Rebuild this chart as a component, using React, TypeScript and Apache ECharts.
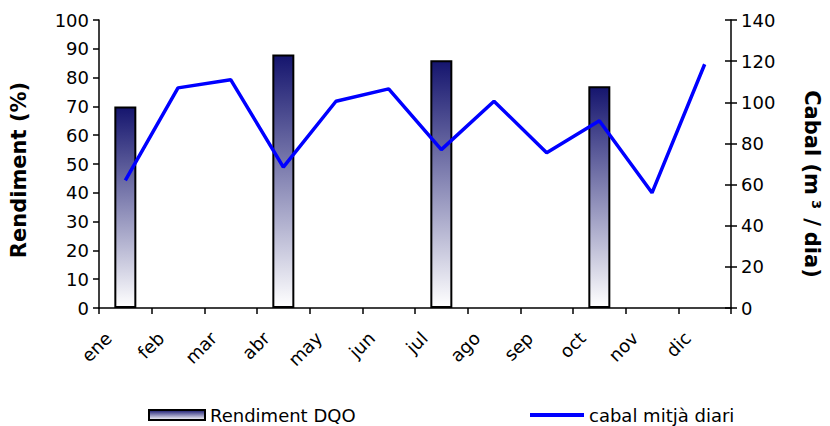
import React, { useEffect, useRef } from "react";
import * as echarts from "echarts";

const months = ["ene", "feb", "mar", "abr", "may", "jun", "jul", "ago", "sep", "oct", "nov", "dic"];
const rendimentDQO: (number | null)[] = [70, null, null, 88, null, null, 86, null, null, 77, null, null];
const cabalMitja: number[] = [62, 107, 111, 68.5, 100.5, 106.5, 77, 100.5, 75.5, 91, 56, 118.5];
const leftTicks = { min: 0, max: 100, interval: 10 };
const rightTicks = { min: 0, max: 140, interval: 20 };

const FONT = "DejaVu Sans";

export default function App() {
  const ref = useRef<HTMLDivElement>(null);
  useEffect(() => {
    if (!ref.current) return;
    const chart = echarts.init(ref.current, null, { renderer: "svg" });
    const barGrad = new echarts.graphic.LinearGradient(0, 0, 0, 1, [
      { offset: 0, color: "#15156e" },
      { offset: 1, color: "#ffffff" },
    ]);
    const axisText = { fontSize: 18, color: "#000", fontFamily: FONT };
    const titleBase = { fontFamily: FONT, fontSize: 21, fontWeight: "bold" as const, color: "#000" };
    chart.setOption({
      animation: false,
      backgroundColor: "#ffffff",
      textStyle: { fontFamily: FONT },
      grid: { left: 99, right: 95, top: 20, bottom: 118, containLabel: false },
      legend: [
        {
          left: 143,
          top: 401,
          itemWidth: 56,
          itemHeight: 10,
          textStyle: { fontFamily: FONT, fontSize: 18, color: "#000" },
          data: [{ name: "Rendiment DQO", icon: "rect" }],
        },
        {
          left: 525,
          top: 401,
          itemWidth: 54,
          itemHeight: 4,
          textStyle: { fontFamily: FONT, fontSize: 18, color: "#000" },
          data: [{ name: "cabal mitjà diari", icon: "rect" }],
        },
      ],
      xAxis: {
        type: "category",
        data: months,
        boundaryGap: true,
        axisLine: { lineStyle: { color: "#000", width: 1.5 } },
        axisTick: { show: true, length: 6, lineStyle: { color: "#000", width: 1.5 } },
        axisLabel: { rotate: 45, margin: 10, padding: [0, 24, 8, 0], ...axisText },
        splitLine: { show: false },
      },
      yAxis: [
        {
          type: "value",
          position: "left",
          ...leftTicks,
          name: "Rendiment (%)",
          nameLocation: "middle",
          nameGap: 70,
          nameTextStyle: { ...titleBase, padding: [0, 12, 0, 0] },
          axisLine: { show: true, lineStyle: { color: "#000", width: 1.5 } },
          axisTick: { show: true, length: 6, lineStyle: { color: "#000", width: 1.5 } },
          axisLabel: { margin: 10, ...axisText },
          splitLine: { show: false },
        },
        {
          type: "value",
          position: "right",
          ...rightTicks,
          name: "{t|Cabal (m}{s|³}{p|/}{t|dia)}",
          nameLocation: "middle",
          nameGap: 70,
          nameRotate: -90,
          nameTextStyle: {
            ...titleBase,
            padding: [0, 0, 0, 40],
            rich: {
              t: { ...titleBase },
              s: { ...titleBase, padding: [0, 5, 0, 5] },
              p: { ...titleBase, padding: [0, 6, 0, 4] },
            },
          },
          axisLine: { show: true, lineStyle: { color: "#000", width: 1.5 } },
          axisTick: { show: true, length: 6, lineStyle: { color: "#000", width: 1.5 } },
          axisLabel: { margin: 10, ...axisText },
          splitLine: { show: false },
        },
        {
          type: "value",
          position: "right",
          ...rightTicks,
          axisLine: { show: false },
          axisTick: { show: true, inside: true, length: 6, lineStyle: { color: "#000", width: 1.5 } },
          axisLabel: { show: false },
          splitLine: { show: false },
        },
      ],
      series: [
        {
          name: "Rendiment DQO",
          type: "bar",
          yAxisIndex: 0,
          data: rendimentDQO,
          barWidth: 22,
          itemStyle: { color: barGrad, borderColor: "#000", borderWidth: 2 },
        },
        {
          name: "cabal mitjà diari",
          type: "line",
          yAxisIndex: 1,
          data: cabalMitja,
          symbol: "none",
          lineStyle: { color: "#0000ff", width: 3.5 },
          itemStyle: { color: "#0000ff" },
        },
      ],
    });
    return () => chart.dispose();
  }, []);
  return (
    <div
      ref={ref}
      style={{ position: "fixed", left: 0, top: 0, width: 830, height: 426 }}
    />
  );
}
